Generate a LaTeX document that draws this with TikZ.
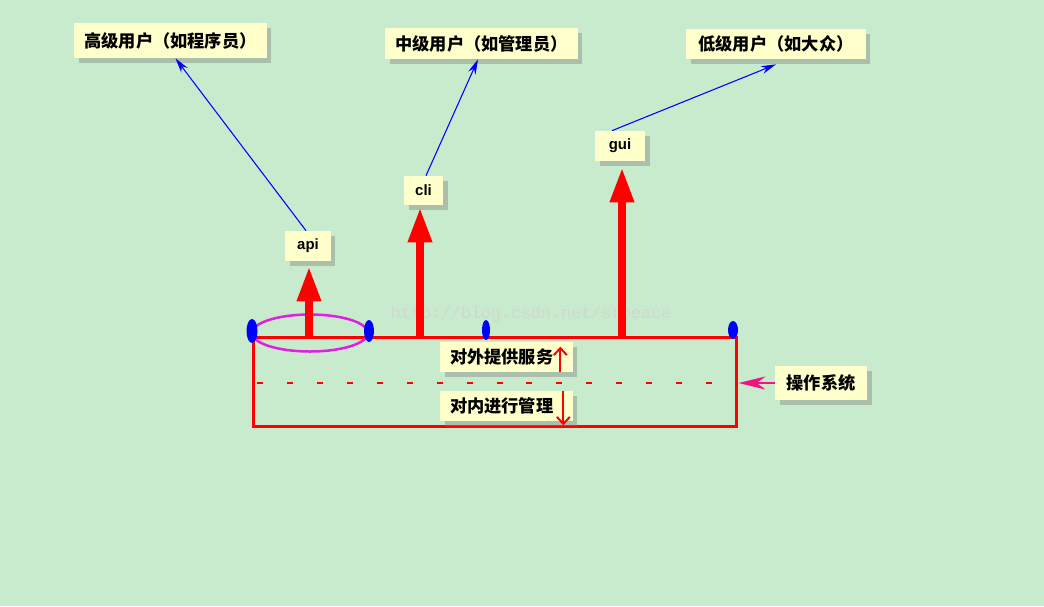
\documentclass[tikz,border=0pt]{standalone}
\usepackage{fontspec}
\setmainfont{Liberation Sans}
\newfontfamily\cjk{Noto Sans CJK SC}
\newfontfamily\wmfont{Liberation Mono}
\usetikzlibrary{arrows.meta,positioning,shadows,calc}
\definecolor{bggreen}{RGB}{199,235,204}
\definecolor{noteyellow}{RGB}{255,255,204}
\definecolor{pinkarrow}{RGB}{240,20,130}
\definecolor{ringpink}{RGB}{225,30,225}
\definecolor{wmgray}{RGB}{208,216,208}

\begin{document}
\begin{tikzpicture}[x=0.02cm, y=-0.02cm,
  note/.style={rectangle, fill=noteyellow, inner sep=0pt, drop shadow={shadow xshift=0.09cm, shadow yshift=-0.09cm, opacity=0.4}, font=\cjk\bfseries\fontsize{9.8}{12}\selectfont},
  tag/.style={note, font=\bfseries\fontsize{8.5}{10}\selectfont},
  side/.style={note, inner xsep=0.2cm, text width=2.26cm, minimum height=0.6cm, align=left},
  userlink/.style={-{Stealth[length=0.3cm,width=0.16cm]}, blue, line width=0.6pt},
  iface/.style={-{Triangle[length=0.7cm,width=0.45cm]}, red, line width=0.16cm},
  tick/.style={-{Straight Barb[length=0.14cm,width=0.26cm]}, red, line width=0.04cm},
  blob/.style={fill=blue}
]
% background
\fill[bggreen] (0,0) rectangle (1044,606);
\useasboundingbox (0,0) rectangle (1044,606);

% watermark
\node[font=\wmfont\fontsize{9.5}{11}\selectfont, text=wmgray] (wm) at (531,314) {http://blog.csdn.net/stpeace};

% users
\node[note, minimum width=3.86cm, minimum height=0.7cm] (hi) at (170.5,40.5) {高级用户（如程序员）};
\node[note, minimum width=3.86cm, minimum height=0.62cm] (mi) at (481.5,43.5) {中级用户（如管理员）};
\node[note, minimum width=3.6cm, minimum height=0.6cm] (lo) at (776,44) {低级用户（如大众）};

% interfaces
\node[tag, minimum width=0.92cm, minimum height=0.6cm] (api) at (308,246) {api};
\node[tag, minimum width=0.78cm, minimum height=0.58cm] (cli) at (423.5,190.5) {cli};
\node[tag, minimum width=1.0cm, minimum height=0.6cm] (gui) at (620,146) {gui};

% operating system
\node[draw=red, line width=0.06cm, minimum width=9.68cm, minimum height=1.78cm] (os) at (495,381.5) {};
\draw[red, line width=0.05cm, dash pattern=on 0.12cm off 0.48cm] ([xshift=0.1cm,yshift=-0.03cm]os.west) -- ([yshift=-0.03cm]os.east);
\node[side] (svc) at (506.5,357) {对外提供服务};
\node[side] (mgmt) at (506.5,406) {对内进行管理};
\node[note, minimum width=1.84cm, minimum height=0.68cm] (oslbl) at (821,383) {操作系统};

% ring and blobs
\draw[ringpink, line width=0.05cm] (310,333) ellipse [x radius=1.16cm, y radius=0.37cm];
\fill[blob] (252,331) ellipse [x radius=0.11cm, y radius=0.24cm];
\fill[blob] (369,331) ellipse [x radius=0.1cm, y radius=0.22cm];
\fill[blob] (486,330) ellipse [x radius=0.08cm, y radius=0.2cm];
\fill[blob] (733,330) ellipse [x radius=0.1cm, y radius=0.18cm];

% red arrows
\draw[iface, shorten >=0.1cm] ([xshift=0.02cm]os.north -| api.south) -- ([xshift=0.02cm]api.south);
\draw[iface, shorten >=0.04cm] ([xshift=-0.07cm]os.north -| cli.south) -- ([xshift=-0.07cm]cli.south);
\draw[iface, shorten >=0.12cm] ([xshift=0.04cm]os.north -| gui.south) -- ([xshift=0.04cm]gui.south);

% user links
\draw[userlink] ([xshift=-0.04cm]api.north) -- ([xshift=0.1cm]hi.south);
\draw[userlink] ([xshift=0.05cm]cli.north) -- ([xshift=-0.07cm]mi.south);
\draw[userlink] ([xshift=-0.16cm]gui.north) -- ([yshift=-0.1cm]lo.south);

% small arrows
\draw[tick] ([xshift=-0.26cm]svc.south east) -- ([xshift=-0.26cm,yshift=-0.1cm]svc.north east);
\draw[tick] ([xshift=-0.2cm]mgmt.north east) -- ([xshift=-0.2cm,yshift=-0.08cm]mgmt.south east);

% label arrow
\draw[pinkarrow, line width=0.04cm, -{Stealth[length=0.54cm,width=0.26cm]}] (oslbl.west) -- (oslbl.west -| os.east);

\end{tikzpicture}
\end{document}
